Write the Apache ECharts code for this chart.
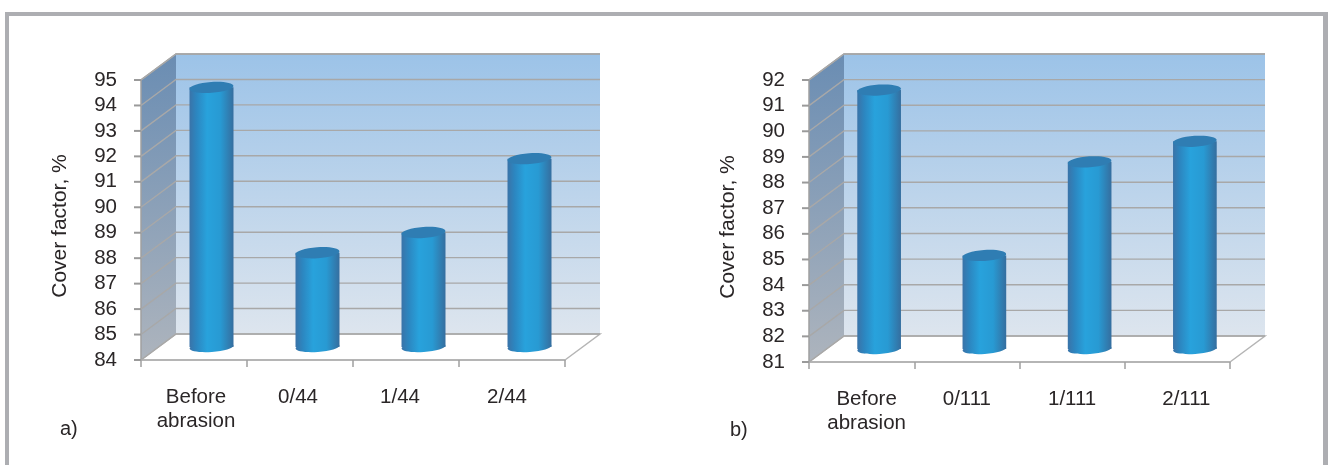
<!DOCTYPE html>
<html>
<head>
<meta charset="utf-8">
<title>Cover factor</title>
<script src="https://cdn.jsdelivr.net/npm/echarts@6/dist/echarts.min.js"></script>
<style>
  html, body { margin: 0; padding: 0; background: #fff; }
  #chart { width: 1328px; height: 465px; }
</style>
</head>
<body>
<div id="chart"></div>
<script>
const categoriesA = ['Before\nabrasion', '0/44', '1/44', '2/44']
const valuesA = [94.2, 87.7, 88.5, 91.4]
const ticksA = [84, 85, 86, 87, 88, 89, 90, 91, 92, 93, 94, 95]

const categoriesB = ['Before\nabrasion', '0/111', '1/111', '2/111']
const valuesB = [91.1, 84.65, 88.3, 89.1]
const ticksB = [81, 82, 83, 84, 85, 86, 87, 88, 89, 90, 91, 92]

const FONT = '"Liberation Sans", Arial, sans-serif'
const TEXT = '#2a2627'
const LINE = '#a8a8a8'
const DEPTH_X = 35
const DEPTH_Y = -26
const TICK = 7

function vGrad(top, bottom) {
  return new echarts.graphic.LinearGradient(0, 0, 0, 1, [
    { offset: 0, color: top },
    { offset: 1, color: bottom }
  ])
}

function barGrad() {
  return new echarts.graphic.LinearGradient(0, 0, 1, 0, [
    { offset: 0, color: '#3a73a8' },
    { offset: 0.16, color: '#2c86c0' },
    { offset: 0.4, color: '#28a2dc' },
    { offset: 0.7, color: '#289ad3' },
    { offset: 1, color: '#356e9f' }
  ])
}

// walls, floor outline and the gridlines on the walls
function renderBox(ticks) {
  return function (params, api) {
    const s = params.coordSys
    const x0 = s.x, x1 = s.x + s.width
    const y0 = s.y, y1 = s.y + s.height
    const children = [
      {
        type: 'polygon',
        shape: { points: [[x0 + DEPTH_X, y0 + DEPTH_Y], [x1 + DEPTH_X, y0 + DEPTH_Y], [x1 + DEPTH_X, y1 + DEPTH_Y], [x0 + DEPTH_X, y1 + DEPTH_Y]] },
        style: { fill: vGrad('#9cc3e8', '#dde5ee') }
      },
      {
        type: 'polygon',
        shape: { points: [[x0, y0], [x0 + DEPTH_X, y0 + DEPTH_Y], [x0 + DEPTH_X, y1 + DEPTH_Y], [x0, y1]] },
        style: { fill: vGrad('#6a8db3', '#adb4bd') }
      },
      {
        type: 'polyline',
        shape: { points: [[x0, y1], [x0 + DEPTH_X, y1 + DEPTH_Y], [x1 + DEPTH_X, y1 + DEPTH_Y], [x1, y1]] },
        style: { fill: 'none', stroke: '#b5b5b5', lineWidth: 1.5 }
      },
      {
        type: 'polyline',
        shape: { points: [[x0, y1], [x0, y0], [x0 + DEPTH_X, y0 + DEPTH_Y], [x1 + DEPTH_X, y0 + DEPTH_Y]] },
        style: { fill: 'none', stroke: '#a0a0a0', lineWidth: 1.5 }
      }
    ]
    ticks.forEach(t => {
      const y = api.coord([0, t])[1]
      children.push({
        type: 'polyline',
        shape: { points: [[x0, y], [x0 + DEPTH_X, y + DEPTH_Y], [x1 + DEPTH_X, y + DEPTH_Y]] },
        style: { fill: 'none', stroke: LINE, lineWidth: 1.4 }
      })
    })
    return { type: 'group', children }
  }
}

// y ticks, in their own layer above everything else
function renderTick(params, api) {
  const y = api.coord([0, api.value(1)])[1]
  const x0 = params.coordSys.x
  return {
    type: 'rect',
    shape: { x: x0 - TICK, y: y - 1, width: TICK, height: 2 },
    style: { fill: '#9a9a9a' }
  }
}

// cylinder standing half way into the box
function renderBar(yMin, params, api) {
  const top = api.coord([api.value(0), api.value(1)])
  const base = api.coord([api.value(0), yMin])
  const w = api.size([1, 0])[0] * 0.415
  const cx = top[0] + DEPTH_X / 2
  const topY = top[1] + DEPTH_Y / 2
  const baseY = base[1] + DEPTH_Y / 2
  const rot = 0.07
  return {
    type: 'group',
    children: [
      {
        type: 'ellipse',
        x: cx, y: baseY, rotation: rot,
        shape: { cx: 0, cy: 0, rx: w / 2, ry: 5 },
        style: { fill: barGrad() }
      },
      {
        type: 'rect',
        shape: { x: cx - w / 2, y: topY, width: w, height: baseY - topY },
        style: { fill: barGrad() }
      },
      {
        type: 'ellipse',
        x: cx, y: topY, rotation: rot,
        shape: { cx: 0, cy: 0, rx: w / 2, ry: 5.5 },
        style: { fill: '#2f7db3' }
      }
    ]
  }
}

function xAxisFor(categories, gridIndex, shifts) {
  // labels in the original do not sit exactly under the category centres
  const rich = {}
  shifts.forEach((s, i) => {
    rich['c' + i] = { lineHeight: 24, padding: s > 0 ? [0, 0, 0, 2 * s] : [0, -2 * s, 0, 0] }
  })
  return {
    type: 'category',
    gridIndex,
    data: categories,
    axisLine: { show: true, lineStyle: { color: '#b5b5b5', width: 2 } },
    axisTick: { show: true, length: TICK, lineStyle: { color: '#a0a0a0', width: 1.5 } },
    axisLabel: {
      interval: 0, margin: 25, color: TEXT, fontFamily: FONT, fontSize: 20.5, lineHeight: 24, verticalAlign: 'top',
      formatter: (v, i) => v.split('\n').map(t => '{c' + i + '|' + t + '}').join('\n'),
      rich
    }
  }
}

function yAxisFor(ticks, gridIndex) {
  return {
    type: 'value',
    gridIndex,
    min: ticks[0],
    max: ticks[ticks.length - 1],
    interval: 1,
    name: 'Cover factor, %',
    nameLocation: 'middle',
    nameGap: 70,
    nameRotate: 90,
    nameTextStyle: { color: TEXT, fontFamily: FONT, fontSize: 21, padding: [0, 12, 0, 0] },
    axisLine: { show: false },
    axisTick: { show: false },
    axisLabel: { margin: 24, color: TEXT, fontFamily: FONT, fontSize: 20.5, padding: [3, 0, 0, 0] },
    splitLine: { show: false }
  }
}

function boxSeries(ticks, idx) {
  return {
    type: 'custom',
    xAxisIndex: idx,
    yAxisIndex: idx,
    z: 1,
    silent: true,
    data: [[0, ticks[0]]],
    renderItem: renderBox(ticks)
  }
}

function tickSeries(ticks, idx) {
  return {
    type: 'custom',
    xAxisIndex: idx,
    yAxisIndex: idx,
    zlevel: 1,
    z: 20,
    silent: true,
    clip: false,
    data: ticks.map(t => [0, t]),
    encode: { x: 0, y: 1 },
    renderItem: renderTick
  }
}

function barSeries(values, ticks, idx) {
  return {
    type: 'custom',
    xAxisIndex: idx,
    yAxisIndex: idx,
    z: 3,
    data: values.map((v, i) => [i, v]),
    encode: { x: 0, y: 1 },
    renderItem: (params, api) => renderBar(ticks[0], params, api)
  }
}

const chart = echarts.init(document.getElementById('chart'), null, { renderer: 'canvas' })

chart.setOption({
  animation: false,
  backgroundColor: '#fff',
  graphic: [
    { type: 'rect', z: -1, shape: { x: 5, y: 12, width: 1323, height: 4 }, style: { fill: '#adaeb2' } },
    { type: 'rect', z: -1, shape: { x: 5, y: 12, width: 4, height: 453 }, style: { fill: '#adaeb2' } },
    { type: 'rect', z: -1, shape: { x: 1323, y: 12, width: 5, height: 453 }, style: { fill: '#adaeb2' } },
    { type: 'text', x: 60, y: 419, style: { text: 'a)', fill: TEXT, font: '20px ' + FONT } },
    { type: 'text', x: 730, y: 420, style: { text: 'b)', fill: TEXT, font: '20px ' + FONT } }
  ],
  grid: [
    { left: 141, top: 80, width: 424, height: 280 },
    { left: 809, top: 80, width: 421, height: 282 }
  ],
  xAxis: [xAxisFor(categoriesA, 0, [2, -2, -6, -5]), xAxisFor(categoriesB, 1, [5, 0, 0, 9])],
  yAxis: [yAxisFor(ticksA, 0), yAxisFor(ticksB, 1)],
  series: [
    boxSeries(ticksA, 0),
    barSeries(valuesA, ticksA, 0),
    tickSeries(ticksA, 0),
    boxSeries(ticksB, 1),
    barSeries(valuesB, ticksB, 1),
    tickSeries(ticksB, 1)
  ]
})
</script>
</body>
</html>
